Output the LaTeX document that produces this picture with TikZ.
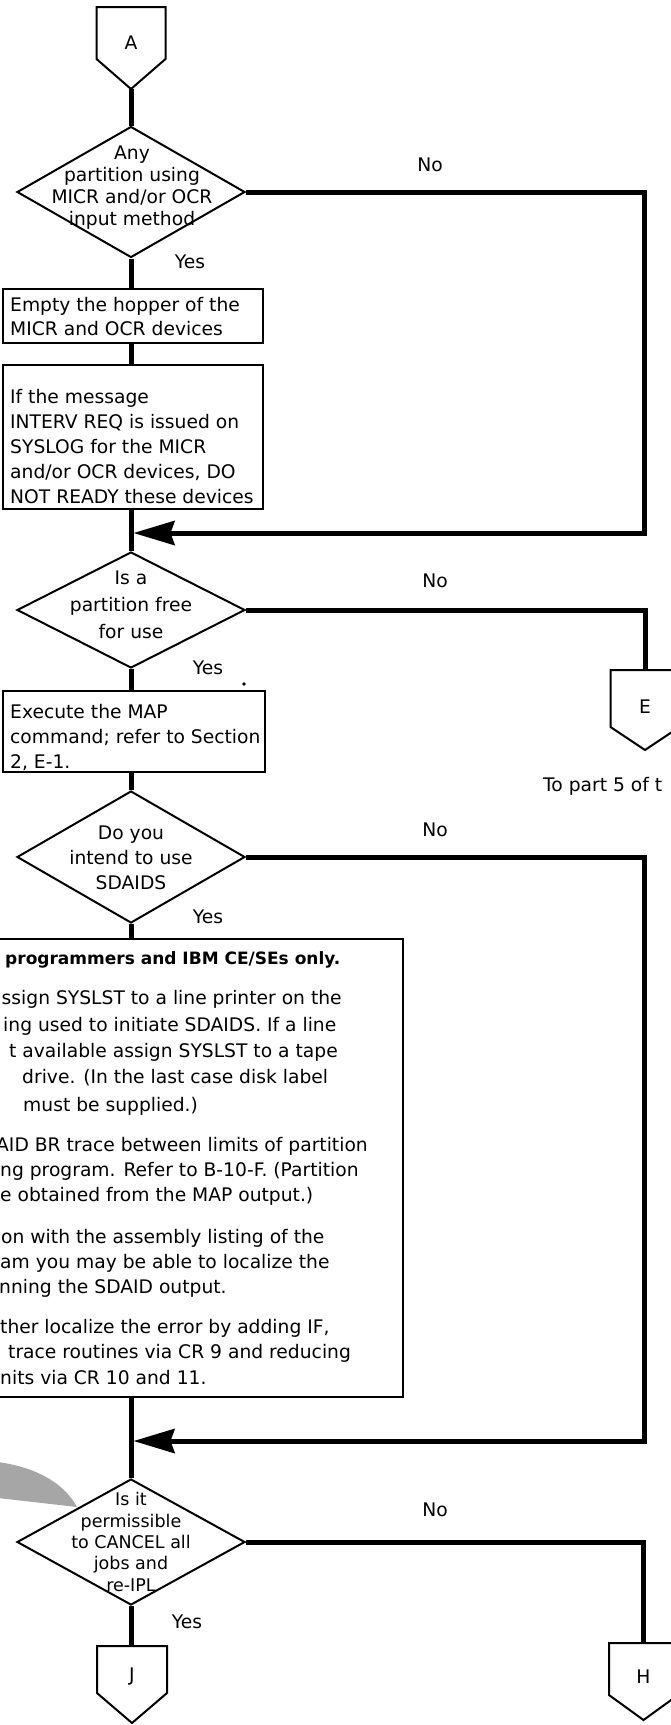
\documentclass[tikz,border=0pt]{standalone}
\usepackage{fontspec}
\setmainfont{DejaVu Sans}
\usetikzlibrary{shapes.geometric, arrows.meta, calc}

\begin{document}
\begin{tikzpicture}[x=1pt, y=-1pt,
  font=\fontsize{18.7}{25}\selectfont,
  flow/.style={line width=5pt},
  merge/.style={flow, -{Stealth[length=41pt, width=24pt, inset=4pt]}},
  boxnode/.style={draw, line width=2pt, inner sep=0pt},
  decision/.style={diamond, draw, line width=2pt, inner sep=0pt, minimum width=228pt},
  qtext/.style={align=center, inner sep=0pt},
  ptext/.style={anchor=west, align=left, inner sep=0pt},
  btext/.style={anchor=base west, inner sep=0pt},
  lbl/.style={inner sep=0pt},
  pentagon/.style={draw, line width=2pt, fill=white}
]
\useasboundingbox (0,0) rectangle (670,1725);

% off-page connectors
\draw[pentagon] (96.5,7) -- (165.5,7) -- (165.5,59) -- (131,89) -- (96.5,59) -- cycle;
\node[lbl] (A) at (131,43) {A};
\coordinate (A-tip) at (131,89);

\draw[pentagon] (610.5,670) -- (679.5,670) -- (679.5,727) -- (645,750) -- (610.5,727) -- cycle;
\node[lbl] (E) at (645,707) {E};
\coordinate (E-top) at (645,670);
\node[btext] (Enote) at (543,791) {To part 5 of t};

\draw[pentagon] (97,1646) -- (167,1646) -- (167,1693) -- (132,1723) -- (97,1693) -- cycle;
\node[lbl] (J) at (132,1677) {J};
\coordinate (J-top) at (131,1646);

\draw[pentagon] (609,1643) -- (678,1643) -- (678,1695) -- (643.5,1720) -- (609,1695) -- cycle;
\node[lbl] (H) at (643.5,1677) {H};
\coordinate (H-top) at (643.5,1643);

% pointer wedge
\fill[black!35] (-2,1462) .. controls (40,1468) and (65,1485) .. (77,1507) -- (-2,1498) -- cycle;

% decisions
\node[decision, minimum height=131pt] (d1) at (131,192) {};
\node[qtext, font=\fontsize{18.7}{22}\selectfont] at (132,188) {Any\\partition using\\MICR and/or OCR\\input method};

\node[decision, minimum height=116pt] (d2) at (131,610) {};
\node[qtext, font=\fontsize{18.7}{27}\selectfont] at (131,605) {Is a\\partition free\\for use};

\node[decision, minimum height=132pt] (d3) at (131,857) {};
\node[qtext, font=\fontsize{18.7}{25}\selectfont] at (131,858) {Do you\\intend to use\\SDAIDS};

\node[decision, minimum height=126pt] (d4) at (131,1542) {};
\node[qtext, font=\fontsize{17.5}{21.3}\selectfont] at (131,1542) {Is it\\permissible\\to CANCEL all\\jobs and\\re-IPL};

% process boxes
\node[boxnode, minimum width=260pt, minimum height=54pt] (b1) at (133,316) {};
\node[ptext, font=\fontsize{18.7}{24}\selectfont] at (10,317) {Empty the hopper of the\\MICR and OCR devices};

\node[boxnode, minimum width=260pt, minimum height=144pt] (b2) at (133,437) {};
\node[ptext] at (10,447) {If the message\\INTERV REQ is issued on\\SYSLOG for the MICR\\and/or OCR devices, DO\\NOT READY these devices};

\node[boxnode, minimum width=262pt, minimum height=81pt] (b3) at (134,731.5) {};
\node[ptext] at (10,737) {Execute the MAP\\command; refer to Section\\2, E-1.};
\fill (244,684) circle (1.8);

\node[boxnode, minimum width=413pt, minimum height=458pt] (b4) at (196.5,1168) {};
\node[btext, font=\fontsize{17}{20}\selectfont\bfseries] at (5,964.5) {programmers and IBM CE/SEs only.};
\node[btext] at (1.5,1004.5) {ssign SYSLST to a line printer on the};
\node[btext] at (3,1031.5) {ing used to initiate SDAIDS. If a line};
\node[btext] at (9,1057.5) {t available assign SYSLST to a tape};
\node[btext] at (22,1083.5) {drive. (In the last case disk label};
\node[btext] at (23,1111.5) {must be supplied.)};
\node[btext] at (-4,1151.5) {AID BR trace between limits of partition};
\node[btext] at (0,1176.5) {ng program. Refer to B-10-F. (Partition};
\node[btext] at (0,1201.5) {e obtained from the MAP output.)};
\node[btext] at (1,1243.5) {on with the assembly listing of the};
\node[btext] at (0,1268.5) {am you may be able to localize the};
\node[btext] at (-1,1293.5) {nning the SDAID output.};
\node[btext] at (0,1333.5) {ther localize the error by adding IF,};
\node[btext] at (8,1358.5) {trace routines via CR 9 and reducing};
\node[btext] at (0,1384.5) {nits via CR 10 and 11.};

% main flow
\draw[flow] (A-tip) -- (d1.north);
\draw[flow] (d1.south) -- (d1.south |- b1.north);
\draw[flow] (d1.south |- b1.south) -- (d1.south |- b2.north);
\draw[flow] (d1.south |- b2.south) -- (d2.north);
\draw[flow] (d2.south) -- (d2.south |- b3.north);
\draw[flow] (d2.south |- b3.south) -- (d3.north);
\draw[flow] (d3.south) -- (d3.south |- b4.north);
\draw[flow] (d3.south |- b4.south) -- (d4.north);
\draw[flow] (d4.south) -- (J-top);

% side branches
\coordinate (m1) at (131,533);
\coordinate (m2) at (131,1441);
\coordinate (rx) at (644,0);
\draw[merge] (d1.east) -- (d1.east -| rx) -- (rx |- m1) -- ($(m1)+(2.5,0)$);
\draw[flow] (d2.east) -- (d2.east -| E-top) -- (E-top);
\draw[merge] (d3.east) -- (d3.east -| rx) -- (rx |- m2) -- ($(m2)+(2.5,0)$);
\draw[flow] (d4.east) -- (d4.east -| H-top) -- (H-top);

% branch labels
\node[lbl] at (430,165) {No};
\node[lbl] at (435,581) {No};
\node[lbl] at (435,830) {No};
\node[lbl] at (435,1510) {No};
\node[lbl] at (190,262) {Yes};
\node[lbl] at (208,668) {Yes};
\node[lbl] at (208,917) {Yes};
\node[lbl] at (187,1622) {Yes};
\end{tikzpicture}
\end{document}
